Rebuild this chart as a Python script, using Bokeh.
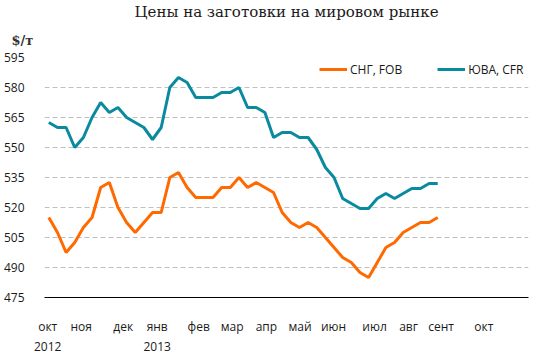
from bokeh.plotting import figure
from bokeh.models import Range1d, FixedTicker, Legend, LegendItem, Title
from bokeh.embed import file_html
from bokeh.resources import INLINE

# weekly prices, Oct 2012 - Aug 2013, $/t
cis_fob = [515, 507.5, 497.5, 502.5, 510, 515, 530, 532.5, 520, 512.5, 507.5, 512.5,
           517.5, 517.5, 535, 537.5, 530, 525, 525, 525, 530, 530, 535, 530, 532.5,
           530, 527.5, 517.5, 512.5, 510, 512.5, 510, 505, 500, 495, 492.5, 487.5,
           485, 492.5, 500, 502.5, 507.5, 510, 512.5, 512.5, 515]
sea_cfr = [562.5, 560, 560, 550, 555, 565, 572.5, 567.5, 570, 565, 562.5, 560,
           554, 560, 580, 585, 582.5, 575, 575, 575, 577.5, 577.5, 580, 570, 570,
           567.5, 555, 557.5, 557.5, 555, 555, 549, 540, 535, 524.5, 522, 519.5,
           519.5, 524.5, 527, 524.5, 527, 529.5, 529.5, 532, 532]
weeks = list(range(len(cis_fob)))

month_labels = ["окт\n2012", "ноя", "дек", "янв\n2013", "фев", "мар", "апр", "май",
                "июн", "июл", "авг", "сент", "окт"]
month_label_at = [-0.13, 3.74, 8.61, 12.54, 17.34, 21.21, 25.17, 29.06, 32.94,
                  37.69, 41.62, 45.39, 50.34]
y_ticks = [475, 490, 505, 520, 535, 550, 565, 580, 595]

ORANGE = "#FF6A00"
TEAL = "#0A8A9E"
FONT = "Open Sans"
TXT = "#1a1a1a"

p = figure(frame_width=484, frame_height=240, output_backend="svg",
           toolbar_location=None, title=None,
           x_range=Range1d(-0.5, 55.5), y_range=Range1d(475, 595),
           min_border_left=35, min_border_right=3, min_border_top=56,
           min_border_bottom=60)
p.outline_line_color = None
p.background_fill_color = "white"
p.border_fill_color = "white"

r1 = p.line(weeks, cis_fob, line_color=ORANGE, line_width=3)
r2 = p.line(weeks, sea_cfr, line_color=TEAL, line_width=3)

p.xgrid.grid_line_color = None
p.ygrid.grid_line_color = "#BFBFBF"
p.ygrid.grid_line_dash = "5 3"
p.ygrid.grid_line_width = 1

p.yaxis.ticker = FixedTicker(ticks=y_ticks)
p.yaxis.axis_line_color = None
p.yaxis.major_tick_line_color = None
p.yaxis.minor_tick_line_color = None
p.yaxis.major_label_standoff = 14
p.yaxis.major_label_text_font = FONT
p.yaxis.major_label_text_font_size = "12px"
p.yaxis.major_label_text_color = TXT

p.xaxis.ticker = FixedTicker(ticks=month_label_at)
p.xaxis.major_label_overrides = {t: l for t, l in zip(month_label_at, month_labels)}
p.xaxis.axis_line_color = "black"
p.xaxis.axis_line_width = 1
p.xaxis.major_tick_line_color = None
p.xaxis.minor_tick_line_color = None
p.xaxis.major_label_standoff = 14
p.xaxis.major_label_text_font = FONT
p.xaxis.major_label_text_font_size = "12px"
p.xaxis.major_label_text_color = TXT

legend = Legend(items=[LegendItem(label="СНГ, FOB", renderers=[r1]),
                       LegendItem(label="ЮВА, CFR", renderers=[r2])],
                orientation="horizontal", location=(275, 218),
                border_line_color=None, background_fill_alpha=0,
                padding=0, margin=0, spacing=35, glyph_width=28,
                label_standoff=3, label_text_font=FONT,
                label_text_font_size="12px", label_text_color=TXT)
p.add_layout(legend, "center")

p.add_layout(Title(text="$/т", align="left", offset=-33, standoff=20,
                   text_font="DejaVu Serif", text_font_size="13px",
                   text_font_style="bold", text_color="#333333"), "above")
p.add_layout(Title(text="Цены на заготовки на мировом рынке", align="center",
                   offset=-20, standoff=0, text_font="DejaVu Serif",
                   text_font_size="15px", text_font_style="normal",
                   text_color=TXT), "above")

open("out.html", "w").write(file_html(p, INLINE))
